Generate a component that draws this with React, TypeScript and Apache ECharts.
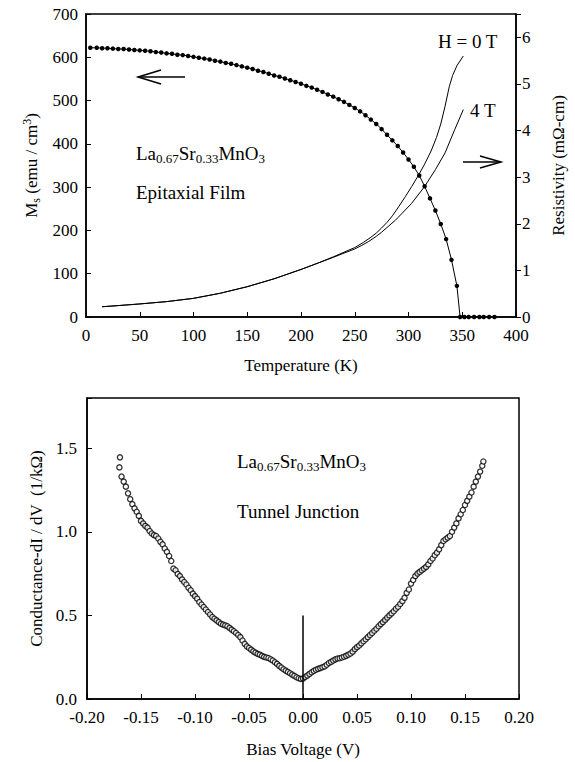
import React, { useEffect, useRef } from 'react';
import * as echarts from 'echarts';

// ---- Top panel: saturation magnetization vs temperature ----
const tempMs = [4, 10, 15, 20, 25, 30, 35, 40, 45, 50, 55, 60, 65, 70, 75, 80, 85, 90, 95, 100,
  105, 110, 115, 120, 125, 130, 135, 140, 145, 150, 155, 160, 165, 170, 175, 180, 185, 190, 195, 200,
  205, 210, 215, 220, 225, 230, 235, 240, 245, 250, 255, 260, 265, 270, 275, 280, 285, 290, 295, 300,
  305, 310, 315, 320, 325, 330, 335, 340, 345, 348, 352, 356, 361, 366, 370, 375, 380];
const msValues = [622, 622, 621, 621, 620, 619, 619, 618, 617, 616, 615, 614, 612, 611, 609, 608, 606, 605, 603, 601,
  599, 597, 595, 592, 590, 587, 585, 582, 579, 576, 573, 569, 566, 562, 558, 555, 551, 547, 543, 539,
  534, 530, 525, 520, 514, 509, 503, 497, 490, 483, 475, 466, 456, 446, 434, 421, 408, 395, 380, 364,
  347, 327, 302, 274, 246, 215, 180, 132, 72, 0, 0, 0, 0, 0, 0, 0, 0];

// ---- Top panel: resistivity vs temperature (H = 0 T and 4 T) ----
const tempRho0 = [15, 30, 50, 75, 100, 125, 150, 175, 200, 215, 230, 240, 250, 258, 265, 270, 275, 280, 285, 291,
  297, 303, 309, 315, 321, 326, 330, 334, 338, 341, 345, 351];
const rho0T = [0.22, 0.245, 0.28, 0.33, 0.40, 0.51, 0.65, 0.82, 1.02, 1.15, 1.29, 1.39, 1.49, 1.60, 1.71, 1.80, 1.91, 2.03, 2.17, 2.37,
  2.58, 2.80, 3.03, 3.28, 3.56, 3.85, 4.14, 4.52, 4.95, 5.18, 5.39, 5.60];
const tempRho4 = [15, 30, 50, 75, 100, 125, 150, 175, 200, 215, 230, 240, 250, 256, 263, 270, 275, 288, 303, 315,
  325, 334, 343, 351];
const rho4T = [0.22, 0.245, 0.28, 0.33, 0.40, 0.51, 0.65, 0.82, 1.02, 1.15, 1.28, 1.37, 1.46, 1.53, 1.62, 1.73, 1.82, 2.08, 2.44, 2.80,
  3.16, 3.52, 4.02, 4.45];

// ---- Bottom panel: conductance vs bias voltage ----
const biasV = [
  -0.170, -0.1695, -0.168, -0.166, -0.164, -0.162, -0.160, -0.158, -0.156, -0.154, -0.152,
  -0.150, -0.148, -0.146, -0.144, -0.142, -0.140, -0.138, -0.136, -0.134, -0.132,
  -0.130, -0.128, -0.126, -0.124, -0.122, -0.120, -0.118, -0.116, -0.114, -0.112,
  -0.110, -0.108, -0.106, -0.104, -0.102, -0.100, -0.098, -0.096, -0.094, -0.092,
  -0.090, -0.088, -0.086, -0.084, -0.082, -0.080, -0.078, -0.076, -0.074, -0.072,
  -0.070, -0.068, -0.066, -0.064, -0.062, -0.060, -0.058, -0.056, -0.054, -0.052,
  -0.050, -0.048, -0.046, -0.044, -0.042, -0.040, -0.038, -0.036, -0.034, -0.032,
  -0.030, -0.028, -0.026, -0.024, -0.022, -0.020, -0.018, -0.016, -0.014, -0.012,
  -0.010, -0.008, -0.006, -0.004, -0.002, 0.000,
  0.002, 0.004, 0.006, 0.008, 0.010, 0.012, 0.014, 0.016, 0.018, 0.020,
  0.022, 0.024, 0.026, 0.028, 0.030, 0.032, 0.034, 0.036, 0.038, 0.040,
  0.042, 0.044, 0.046, 0.048, 0.050, 0.052, 0.054, 0.056, 0.058, 0.060,
  0.062, 0.064, 0.066, 0.068, 0.070, 0.072, 0.074, 0.076, 0.078, 0.080,
  0.082, 0.084, 0.086, 0.088, 0.090, 0.092, 0.094, 0.096, 0.098, 0.100,
  0.102, 0.104, 0.106, 0.108, 0.110, 0.112, 0.114, 0.116, 0.118, 0.120,
  0.122, 0.124, 0.126, 0.128, 0.130, 0.132, 0.134, 0.136, 0.138, 0.140,
  0.142, 0.144, 0.146, 0.148, 0.150, 0.152, 0.154, 0.156, 0.158, 0.160,
  0.162, 0.164, 0.166, 0.167];
const conductance = [
  1.385, 1.445, 1.33, 1.30, 1.27, 1.23, 1.195, 1.165, 1.14, 1.12, 1.095,
  1.065, 1.05, 1.035, 1.025, 1.005, 0.99, 0.98, 0.975, 0.96, 0.94,
  0.925, 0.90, 0.88, 0.855, 0.825, 0.78, 0.77, 0.748, 0.735, 0.715,
  0.70, 0.685, 0.665, 0.65, 0.63, 0.615, 0.60, 0.58, 0.565, 0.55,
  0.535, 0.52, 0.505, 0.49, 0.48, 0.47, 0.46, 0.45, 0.445, 0.44,
  0.435, 0.425, 0.415, 0.405, 0.395, 0.383, 0.37, 0.35, 0.33, 0.315,
  0.305, 0.295, 0.285, 0.277, 0.27, 0.265, 0.258, 0.252, 0.248, 0.245,
  0.238, 0.23, 0.22, 0.21, 0.198, 0.188, 0.178, 0.17, 0.162, 0.154,
  0.146, 0.138, 0.13, 0.124, 0.12, 0.122,
  0.132, 0.14, 0.15, 0.16, 0.168, 0.175, 0.18, 0.185, 0.19, 0.195,
  0.205, 0.215, 0.222, 0.23, 0.237, 0.242, 0.244, 0.248, 0.253, 0.258,
  0.265, 0.272, 0.283, 0.298, 0.31, 0.32, 0.333, 0.345, 0.357, 0.37,
  0.383, 0.395, 0.408, 0.42, 0.435, 0.448, 0.46, 0.473, 0.487, 0.50,
  0.512, 0.525, 0.54, 0.552, 0.568, 0.585, 0.605, 0.635, 0.655, 0.69,
  0.712, 0.735, 0.75, 0.76, 0.77, 0.78, 0.79, 0.805, 0.825, 0.84,
  0.86, 0.875, 0.895, 0.92, 0.945, 0.955, 0.965, 0.975, 1.0, 1.025,
  1.05, 1.08, 1.105, 1.13, 1.16, 1.185, 1.21, 1.235, 1.27, 1.30,
  1.33, 1.36, 1.395, 1.42];

// zero-bias marker line
const zeroBiasV = [0, 0];
const zeroBiasG = [0, 0.5];

const zip = (a: number[], b: number[]) => a.map((v, i) => [v, b[i]]);

const FONT = 'Liberation Serif';
const BLACK = '#000';

const richStyles = (size: number) => ({
  n: { fontFamily: FONT, fontSize: size, color: BLACK, fill: BLACK },
  s: { fontFamily: FONT, fontSize: Math.round(size * 0.7), color: BLACK, fill: BLACK, padding: [Math.round(size * 0.55), 0, 0, 0] },
  p: { fontFamily: FONT, fontSize: Math.round(size * 0.7), color: BLACK, fill: BLACK, padding: [0, 0, Math.round(size * 0.55), 0] },
});

export default function App() {
  const ref = useRef<HTMLDivElement>(null);

  useEffect(() => {
    const chart = echarts.init(ref.current!, null, { renderer: 'svg' });

    const tickLabel = { fontFamily: FONT, fontSize: 17, color: BLACK };
    const axisLine = { show: true, onZero: false, lineStyle: { color: BLACK, width: 1.5 } };

    const option: any = {
      animation: false,
      backgroundColor: '#fff',
      grid: [
        { left: 86, right: 57, top: 14, height: 303, show: true, borderColor: BLACK, borderWidth: 1.5, backgroundColor: 'transparent' },
        { left: 87, right: 56, top: 398, height: 301, show: true, borderColor: BLACK, borderWidth: 1.5, backgroundColor: 'transparent' },
      ],
      xAxis: [
        {
          type: 'value', gridIndex: 0, min: 0, max: 400, interval: 50,
          axisLine, splitLine: { show: false },
          axisTick: { show: true, inside: true, length: 5, lineStyle: { color: BLACK, width: 1 } },
          axisLabel: { ...tickLabel, margin: 10 },
          name: 'Temperature (K)', nameLocation: 'middle', nameGap: 40,
          nameTextStyle: { fontFamily: FONT, fontSize: 17, color: BLACK },
        },
        {
          type: 'value', gridIndex: 1, min: -0.2, max: 0.2, interval: 0.05,
          axisLine, splitLine: { show: false },
          axisTick: { show: true, inside: true, length: 5, lineStyle: { color: BLACK, width: 1 } },
          axisLabel: { ...tickLabel, margin: 10, formatter: (v: number) => v.toFixed(2) },
          name: 'Bias Voltage (V)', nameLocation: 'middle', nameGap: 42,
          nameTextStyle: { fontFamily: FONT, fontSize: 17, color: BLACK },
        },
      ],
      yAxis: [
        {
          type: 'value', gridIndex: 0, min: 0, max: 700, interval: 100,
          axisLine, splitLine: { show: false },
          axisTick: { show: true, inside: true, length: 5, lineStyle: { color: BLACK, width: 1 } },
          axisLabel: { ...tickLabel, margin: 8 },
          name: '{n|M}{s|s}{n| (emu / cm}{p|3}{n|)}', nameLocation: 'middle', nameGap: 44,
          nameTextStyle: { rich: richStyles(17) },
        },
        {
          type: 'value', gridIndex: 0, position: 'right', min: 0, max: 6.5, interval: 1,
          axisLine, splitLine: { show: false },
          axisTick: { show: true, inside: false, length: 5, lineStyle: { color: BLACK, width: 1 } },
          axisLabel: { ...tickLabel, margin: 6, formatter: (v: number) => (Math.abs(v - Math.round(v)) < 1e-6 ? String(Math.round(v)) : '') },
          name: 'Resistivity (mΩ-cm)', nameLocation: 'middle', nameGap: 34, nameRotate: 90,
          nameTextStyle: { fontFamily: FONT, fontSize: 17, color: BLACK },
        },
        {
          type: 'value', gridIndex: 1, min: 0, max: 1.8, interval: 0.5,
          axisLine, splitLine: { show: false },
          axisTick: { show: true, inside: true, length: 5, lineStyle: { color: BLACK, width: 1 } },
          axisLabel: { ...tickLabel, margin: 10, formatter: (v: number) => (Math.abs(v * 2 - Math.round(v * 2)) < 1e-6 ? v.toFixed(1) : '') },
          name: 'Conductance-dI / dV  (1/kΩ)', nameLocation: 'middle', nameGap: 40,
          nameTextStyle: { fontFamily: FONT, fontSize: 17, color: BLACK },
        },
      ],
      series: [
        {
          type: 'line', xAxisIndex: 0, yAxisIndex: 0, data: zip(tempMs, msValues),
          symbol: 'circle', symbolSize: 4.5, showAllSymbol: true,
          itemStyle: { color: BLACK }, lineStyle: { color: BLACK, width: 1 },
        },
        {
          type: 'line', xAxisIndex: 0, yAxisIndex: 1, data: zip(tempRho0, rho0T),
          symbol: 'none', smooth: false, lineStyle: { color: BLACK, width: 1 },
        },
        {
          type: 'line', xAxisIndex: 0, yAxisIndex: 1, data: zip(tempRho4, rho4T),
          symbol: 'none', smooth: false, lineStyle: { color: BLACK, width: 1 },
        },
        {
          type: 'scatter', xAxisIndex: 1, yAxisIndex: 2, data: zip(biasV, conductance),
          symbol: 'circle', symbolSize: 5.2,
          itemStyle: { color: '#fff', borderColor: BLACK, borderWidth: 1.3 },
        },
        {
          type: 'line', xAxisIndex: 1, yAxisIndex: 2, data: zip(zeroBiasV, zeroBiasG),
          symbol: 'none', lineStyle: { color: BLACK, width: 1.5 }, z: 3,
        },
      ],
      graphic: [
        { type: 'text', x: 136, y: 142, style: { text: '{n|La}{s|0.67}{n|Sr}{s|0.33}{n|MnO}{s|3}', rich: richStyles(19) } },
        { type: 'text', x: 136, y: 183, style: { text: 'Epitaxial Film', font: `19px ${FONT}`, fill: BLACK } },
        { type: 'text', x: 438, y: 32, style: { text: 'H = 0 T', font: `19px ${FONT}`, fill: BLACK } },
        { type: 'text', x: 470, y: 101, style: { text: '4 T', font: `19px ${FONT}`, fill: BLACK } },
        { type: 'text', x: 237, y: 450, style: { text: '{n|La}{s|0.67}{n|Sr}{s|0.33}{n|MnO}{s|3}', rich: richStyles(19) } },
        { type: 'text', x: 237, y: 502, style: { text: 'Tunnel Junction', font: `19px ${FONT}`, fill: BLACK } },
        // left arrow (points to the magnetization axis)
        { type: 'line', shape: { x1: 138, y1: 77, x2: 185, y2: 77 }, style: { stroke: BLACK, lineWidth: 1.5 } },
        { type: 'polyline', shape: { points: [[161, 70], [138, 77], [161, 84]] }, style: { stroke: BLACK, lineWidth: 1.5, fill: 'none' } },
        // right arrow (points to the resistivity axis)
        { type: 'line', shape: { x1: 463, y1: 162, x2: 501, y2: 162 }, style: { stroke: BLACK, lineWidth: 1.5 } },
        { type: 'polyline', shape: { points: [[480, 156], [501, 162], [480, 168]] }, style: { stroke: BLACK, lineWidth: 1.5, fill: 'none' } },
      ],
    };

    chart.setOption(option);
    return () => chart.dispose();
  }, []);

  return <div ref={ref} style={{ position: 'fixed', left: 0, top: 0, width: 575, height: 762, background: '#fff' }} />;
}
